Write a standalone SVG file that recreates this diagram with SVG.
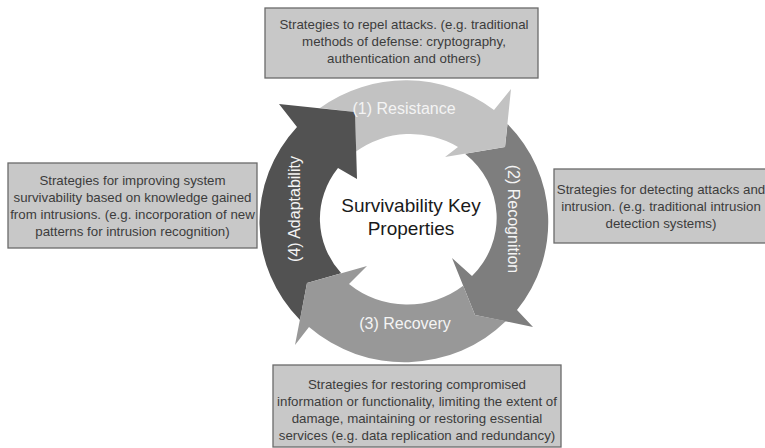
<svg xmlns="http://www.w3.org/2000/svg" width="765" height="448" viewBox="0 0 765 448">
<style>
.box{fill:#c8c8c8;stroke:#6a6a6a;stroke-width:1.3}
.bt{font-family:"Liberation Sans",Arial,sans-serif;font-size:13.3px;fill:#3c3c3c;text-anchor:middle}
.al{font-family:"Liberation Sans",Arial,sans-serif;font-size:16px;fill:#f4f4f4;text-anchor:middle}
.ct{font-family:"Liberation Sans",Arial,sans-serif;font-size:19px;fill:#1a1a1a;text-anchor:middle}
</style>
<rect width="765" height="448" fill="#ffffff"/>
<g id="connectors">
<path id="arrow-recognition" fill="#7e7e7e" d="M 507.5,124 A 144 141 0 0 1 517,310 L 533,327 L 475,315 L 452,258 L 472,276 A 89 84 0 0 0 465,153.7 L 505,147 Z"/>
<path id="arrow-resistance" fill="#c2c2c2" d="M 320,108 A 144 141 0 0 1 494,110 L 511,89 L 505,147 L 445,157 L 458,147 A 89 84 0 0 0 356,151.5 L 355,112 Z"/>
<path id="arrow-adaptability" fill="#525252" d="M 341.2,273.3 L 307,283 L 300,320 A 144 141 0 0 1 297,127 L 279,104 L 355,112 L 357,179 L 338,168 A 89 84 0 0 0 341.2,273.3 Z"/>
<path id="arrow-recovery" fill="#989898" d="M 463.2,285.8 L 475,315 L 506,321 A 144 141 0 0 1 309,327 L 295,345 L 307,283 L 367,266 L 349,284 A 89 84 0 0 0 463.2,285.8 Z"/>
</g>
<g id="label-resistance"><text class="al" x="404" y="114">(1) Resistance</text></g>
<g id="label-recognition"><text class="al" transform="translate(508,219) rotate(90)">(2) Recognition</text></g>
<g id="label-recovery"><text class="al" x="405" y="329">(3) Recovery</text></g>
<g id="label-adaptability"><text class="al" transform="translate(300,209) rotate(-90)">(4) Adaptability</text></g>
<g id="center">
<text class="ct" x="411" y="212">Survivability Key</text>
<text class="ct" x="411" y="235">Properties</text>
</g>
<g id="box-resistance">
<rect class="box" x="265" y="8" width="273" height="70"/>
<text class="bt" x="404" y="29">Strategies to repel attacks. (e.g. traditional</text>
<text class="bt" x="404" y="46">methods of defense: cryptography,</text>
<text class="bt" x="404" y="63">authentication and others)</text>
</g>
<g id="box-adaptability">
<rect class="box" x="8" y="163" width="249" height="85"/>
<text class="bt" x="132.5" y="185">Strategies for improving system</text>
<text class="bt" x="132.5" y="202">survivability based on knowledge gained</text>
<text class="bt" x="132.5" y="219">from intrusions. (e.g. incorporation of new</text>
<text class="bt" x="132.5" y="236">patterns for intrusion recognition)</text>
</g>
<g id="box-recognition">
<rect class="box" x="554" y="169" width="215" height="74"/>
<text class="bt" x="661" y="194">Strategies for detecting attacks and</text>
<text class="bt" x="661" y="211">intrusion. (e.g. traditional intrusion</text>
<text class="bt" x="661" y="228">detection systems)</text>
</g>
<g id="box-recovery">
<rect class="box" x="273" y="365" width="288" height="82"/>
<text class="bt" x="417" y="389">Strategies for restoring compromised</text>
<text class="bt" x="417" y="406">information or functionality, limiting the extent of</text>
<text class="bt" x="417" y="423">damage, maintaining or restoring essential</text>
<text class="bt" x="417" y="440">services (e.g. data replication and redundancy)</text>
</g>
</svg>
